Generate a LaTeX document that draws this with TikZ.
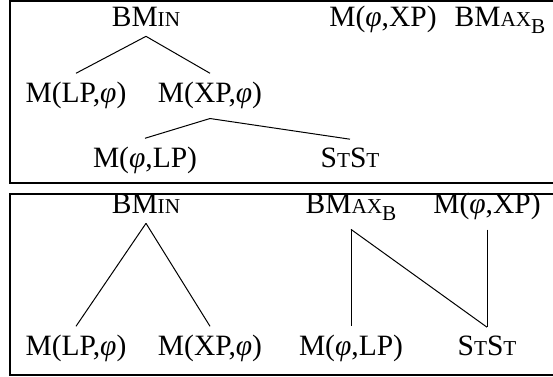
\documentclass[tikz,border=0pt]{standalone}
\usepackage{fontspec}
\setmainfont{Liberation Serif}
\usepackage{tikz}
\usetikzlibrary{positioning}

\newcommand\smallcap[1]{{\fontsize{8.5}{9}\selectfont #1}}
\newcommand\phiv{\textit{φ}}
\newcommand\bmin{BM\smallcap{IN}}
\newcommand\bmax{BM\smallcap{AX}\raisebox{-0.45ex}{\smallcap{B}}}
\newcommand\stst{S\smallcap{T}S\smallcap{T}}

\tikzset{
  lbl/.style={anchor=base, inner sep=3.5pt, font=\fontsize{11.8}{13}\selectfont},
  panel/.style={line width=0.8pt},
  link/.style={line width=0.4pt}
}

\begin{document}
\begin{tikzpicture}[x=0.4pt, y=-0.4pt]
\useasboundingbox (0,0) rectangle (553,377);

% Panels
\draw[panel] (10,1) rectangle (560,183);
\draw[panel] (10,194) rectangle (560,375);

% Upper panel
\node[lbl] (bminA) at (146,27) {\bmin};
\node[lbl] (phixpA) at (383,27) {M(\phiv,XP)};
\node[lbl] (bmaxA) at (500,27) {\bmax};
\node[lbl] (lpphiA) at (76,103) {M(LP,\phiv)};
\node[lbl] (xpphiA) at (210,103) {M(XP,\phiv)};
\node[lbl] (philpA) at (145,168) {M(\phiv,LP)};
\node[lbl] (ststA) at (350,168) {\stst};

\draw[link] (bminA.south) -- (lpphiA.north);
\draw[link] (bminA.south) -- (xpphiA.north);
\draw[link] (xpphiA.south) -- (philpA.north);
\draw[link] (xpphiA.south) -- (ststA.north);

% Lower panel
\node[lbl] (bminB) at (146,214) {\bmin};
\node[lbl] (bmaxB) at (351,214) {\bmax};
\node[lbl] (phixpB) at (487,214) {M(\phiv,XP)};
\node[lbl] (lpphiB) at (76,356) {M(LP,\phiv)};
\node[lbl] (xpphiB) at (210,356) {M(XP,\phiv)};
\node[lbl] (philpB) at (351,356) {M(\phiv,LP)};
\node[lbl] (ststB) at (487,356) {\stst};

\draw[link] (bminB.south) -- (lpphiB.north);
\draw[link] (bminB.south) -- (xpphiB.north);
\draw[link] (bmaxB.south) -- (philpB.north);
\draw[link] (bmaxB.south) -- (ststB.north);
\draw[link] (phixpB.south) -- (ststB.north);
\end{tikzpicture}
\end{document}
